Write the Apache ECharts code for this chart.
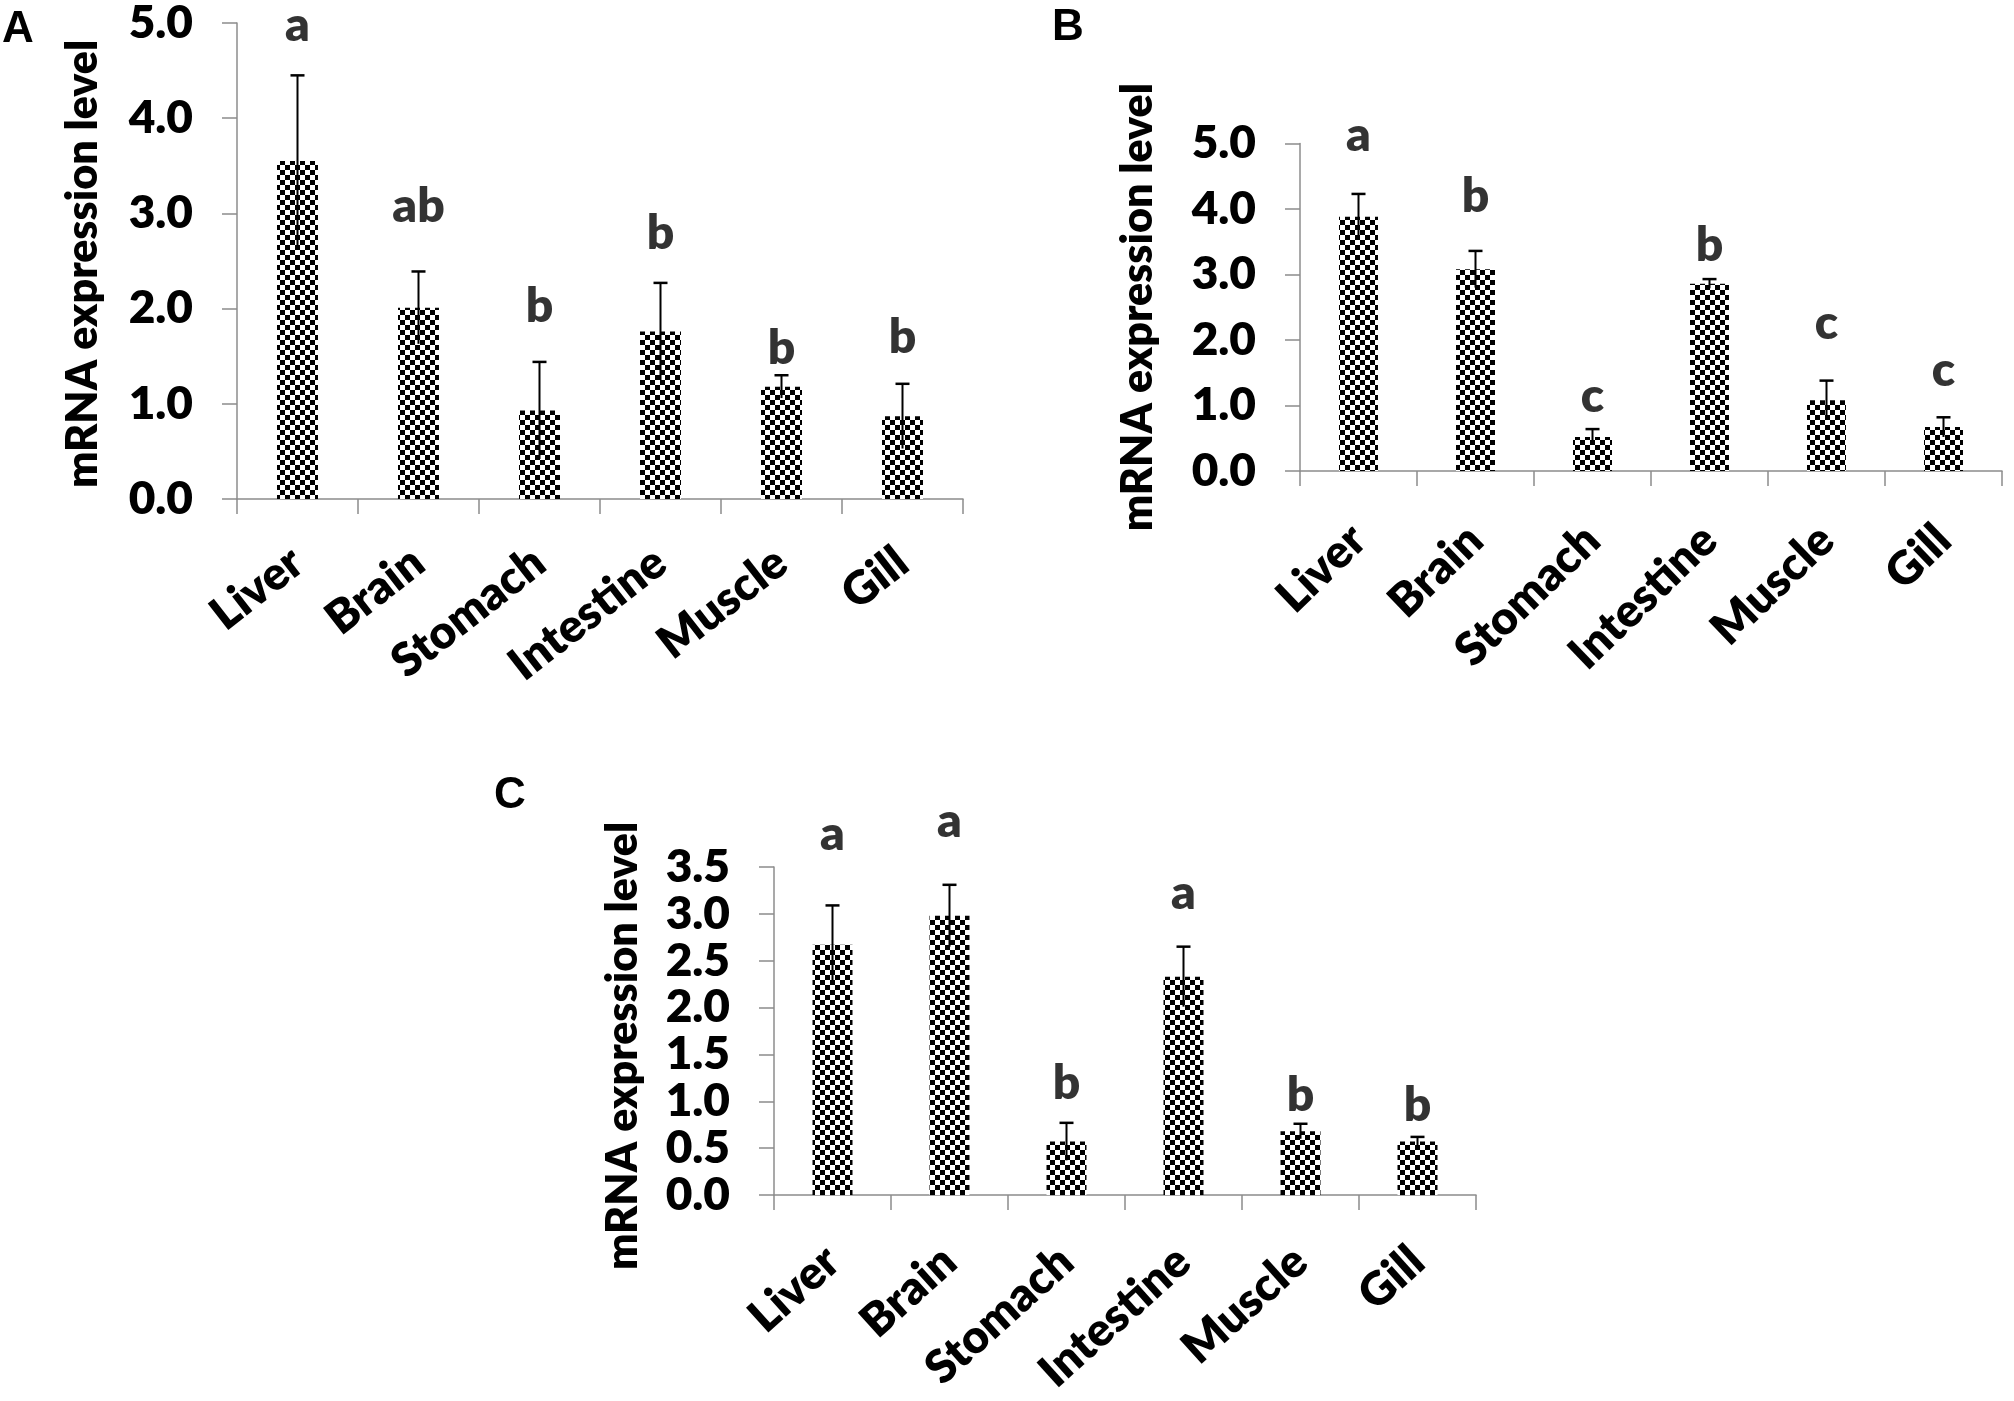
<!DOCTYPE html>
<html>
<head>
<meta charset="utf-8">
<script src="https://cdn.jsdelivr.net/npm/echarts@6/dist/echarts.min.js"></script>
<style>
html,body{margin:0;padding:0;background:#fff;}
#chart{width:2014px;height:1401px;}
</style>
</head>
<body>
<div id="chart"></div>
<script>
// ---- data ----
const categories = ['Liver', 'Brain', 'Stomach', 'Intestine', 'Muscle', 'Gill'];

const meanA = [3.55, 2.01, 0.93, 1.76, 1.18, 0.87];
const errA  = [0.90, 0.38, 0.51, 0.51, 0.12, 0.34];
const lettersA = ['a', 'ab', 'b', 'b', 'b', 'b'];
const letterPosA = [4.90, 3.00, 1.95, 2.72, 1.51, 1.62];

const meanB = [3.88, 3.08, 0.52, 2.86, 1.08, 0.67];
const errB  = [0.35, 0.28, 0.12, 0.07, 0.30, 0.15];
const lettersB = ['a', 'b', 'c', 'b', 'c', 'c'];
const letterPosB = [5.01, 4.08, 1.03, 3.34, 2.14, 1.42];

const meanC = [2.67, 2.98, 0.57, 2.33, 0.68, 0.57];
const errC  = [0.42, 0.33, 0.20, 0.32, 0.08, 0.05];
const lettersC = ['a', 'a', 'b', 'a', 'b', 'b'];
const letterPosC = [3.77, 3.91, 1.12, 3.14, 0.99, 0.88];

// ---- checkerboard pattern ----
const pat = document.createElement('canvas');
pat.width = 10; pat.height = 10;
const pc = pat.getContext('2d');
pc.fillStyle = '#ffffff'; pc.fillRect(0, 0, 10, 10);
pc.fillStyle = '#000000';
pc.fillRect(0, 0, 5, 5); pc.fillRect(5, 5, 5, 5);

const FONT = 'Lato';
const FW = 800;
const AXIS_COLOR = '#8c8c8c';

const panels = [
  { mean: meanA, err: errA, letters: lettersA, letterPos: letterPosA, yMax: 5, yInt: 1,
    grid: { left: 237, top: 19, width: 726, height: 480 }, rot: 38, xMargin: 58, nameGap: 132, barW: 41, namePad: [0, 6, 0, 0] },
  { mean: meanB, err: errB, letters: lettersB, letterPos: letterPosB, yMax: 5, yInt: 1,
    grid: { left: 1300, top: 143.5, width: 702, height: 327.5 }, rot: 44, xMargin: 62, nameGap: 140, barW: 39, namePad: [0, 0, 0, 0] },
  { mean: meanC, err: errC, letters: lettersC, letterPos: letterPosC, yMax: 3.5, yInt: 0.5,
    grid: { left: 774, top: 867, width: 702, height: 328 }, rot: 42, xMargin: 60, nameGap: 129, barW: 40, namePad: [0, 30, 0, 0] }
];

const grid = [], xAxis = [], yAxis = [], series = [];
panels.forEach((p, i) => {
  grid.push(Object.assign({ containLabel: false }, p.grid));
  xAxis.push({
    type: 'category', gridIndex: i, data: categories,
    axisLine: { show: true, lineStyle: { color: AXIS_COLOR, width: 1.5 } },
    axisTick: { show: true, length: 15, lineStyle: { color: AXIS_COLOR, width: 1.5 } },
    axisLabel: { rotate: p.rot, margin: p.xMargin, color: '#000', fontFamily: FONT, fontWeight: FW, fontSize: 46, interval: 0 },
    splitLine: { show: false }
  });
  yAxis.push({
    type: 'value', gridIndex: i, min: 0, max: p.yMax, interval: p.yInt,
    name: 'mRNA expression level', nameLocation: 'middle', nameGap: p.nameGap,
    nameTextStyle: { color: '#000', fontFamily: FONT, fontWeight: FW, fontSize: 43, padding: p.namePad },
    axisLine: { show: true, lineStyle: { color: AXIS_COLOR, width: 1.5 } },
    axisTick: { show: true, length: 15, lineStyle: { color: AXIS_COLOR, width: 1.5 } },
    axisLabel: { margin: 44, color: '#000', fontFamily: FONT, fontWeight: FW, fontSize: 46,
                 formatter: v => v.toFixed(1) },
    splitLine: { show: false }
  });
  series.push({
    type: 'bar', xAxisIndex: i, yAxisIndex: i, data: p.mean, barWidth: p.barW,
    itemStyle: { color: { image: pat, repeat: 'repeat' } },
    emphasis: { disabled: true }, animation: false
  });
  series.push({
    type: 'custom', xAxisIndex: i, yAxisIndex: i, clip: false,
    data: p.mean.map((m, k) => [k, m, p.err[k]]),
    renderItem: function (params, api) {
      const k = api.value(0), m = api.value(1), e = api.value(2);
      const hi = api.coord([k, m + e]);
      const lo = api.coord([k, m - e]);
      return {
        type: 'group',
        children: [
          { type: 'line', shape: { x1: hi[0], y1: hi[1], x2: lo[0], y2: lo[1] }, style: { stroke: '#000', lineWidth: 2 } },
          { type: 'line', shape: { x1: hi[0] - 7, y1: hi[1], x2: hi[0] + 7, y2: hi[1] }, style: { stroke: '#000', lineWidth: 2.5 } }
        ]
      };
    },
    z: 5, animation: false
  });
  series.push({
    type: 'scatter', xAxisIndex: i, yAxisIndex: i, symbolSize: 1, clip: false,
    itemStyle: { color: 'rgba(0,0,0,0)' },
    data: p.letterPos.map((v, k) => ({ value: [k, v], name: p.letters[k] })),
    label: { show: true, position: 'inside', offset: [0, -7], formatter: d => d.name, color: '#000',
             fontFamily: FONT, fontWeight: FW, fontSize: 48 },
    z: 6, animation: false, emphasis: { disabled: true }
  });
});

const chart = echarts.init(document.getElementById('chart'), null, { renderer: 'canvas' });
chart.setOption({
  backgroundColor: '#ffffff',
  animation: false,
  grid, xAxis, yAxis, series,
  graphic: [
    { type: 'text', left: 2, top: 8, style: { text: 'A', font: 'bold 44px "Liberation Sans", Arial', fill: '#000' } },
    { type: 'text', left: 1052, top: 6, style: { text: 'B', font: 'bold 44px "Liberation Sans", Arial', fill: '#000' } },
    { type: 'text', left: 494, top: 774, style: { text: 'C', font: 'bold 44px "Liberation Sans", Arial', fill: '#000' } }
  ]
});
</script>
</body>
</html>
